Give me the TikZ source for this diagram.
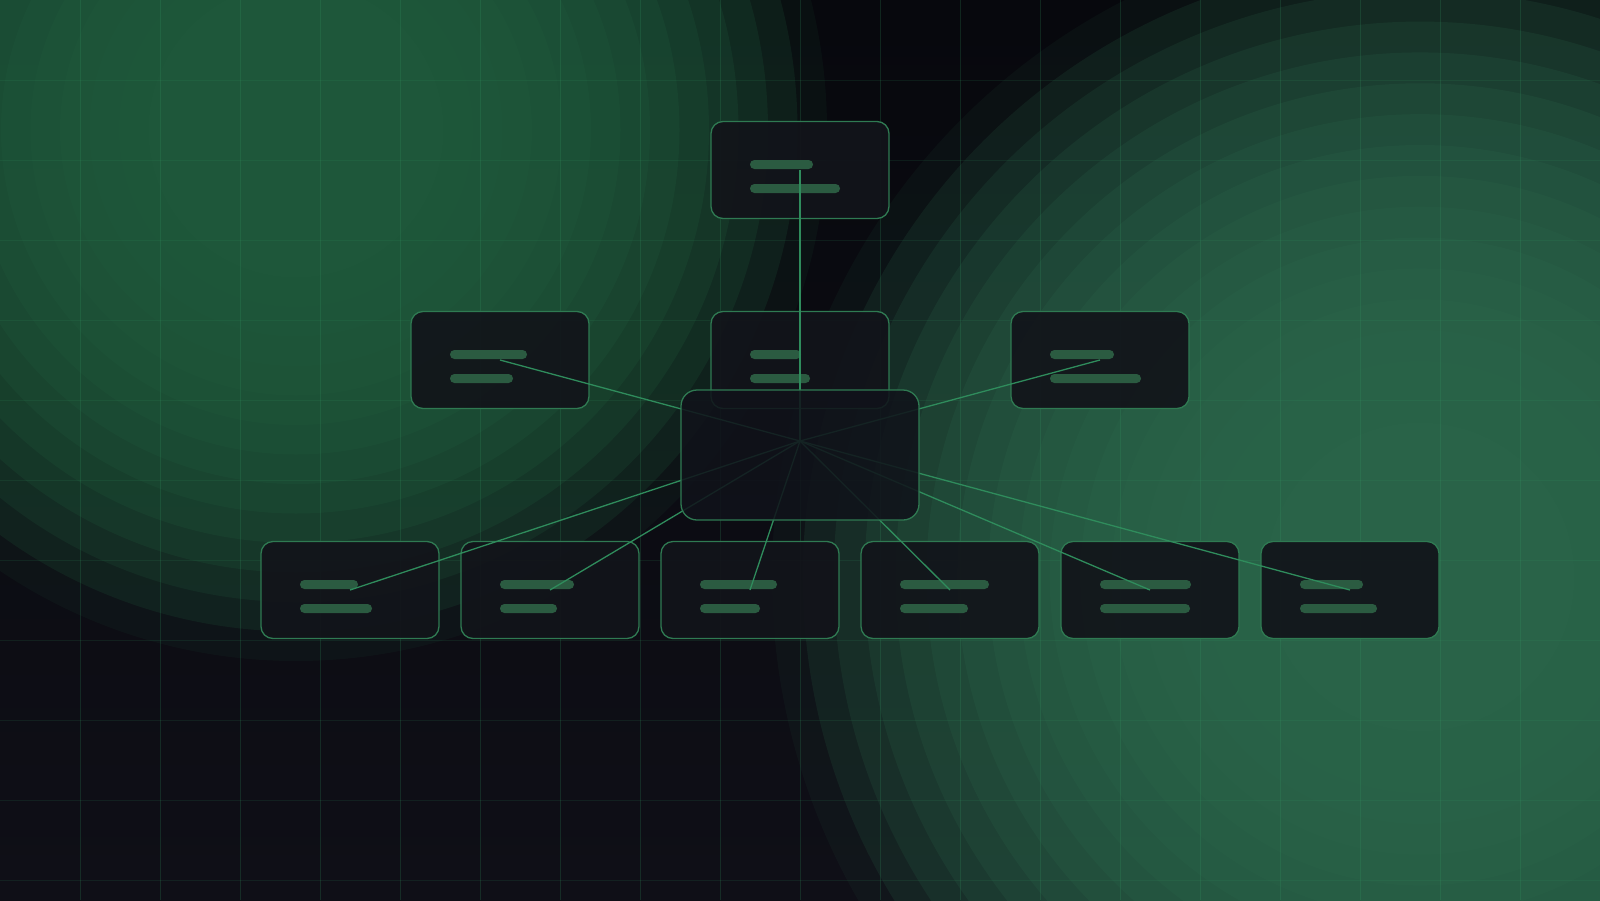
\documentclass[tikz,border=0pt]{standalone}
\usetikzlibrary{calc}
\definecolor{bgtop}{HTML}{07080D}
\definecolor{bgbot}{HTML}{0F0F17}
\definecolor{glowL}{HTML}{1F583B}
\definecolor{glowR}{HTML}{2A6449}
\definecolor{gridc}{HTML}{34A066}
\definecolor{boxfill}{HTML}{12141A}
\definecolor{hubfill}{HTML}{10121A}
\definecolor{boxline}{HTML}{2F7A52}
\definecolor{barc}{HTML}{2B5B41}
\definecolor{linkc}{HTML}{2F8C5C}
\newcommand\cardbars[3]{%
  \fill[bar] ($(#1.center)+(-50,-10)$) rectangle ++(#2,9);
  \fill[bar] ($(#1.center)+(-50,14)$) rectangle ++(#3,9);}
\begin{document}
\begin{tikzpicture}[x=0.5pt,y=-0.5pt,
  card/.style={draw=boxline, line width=0.65pt, fill=boxfill, fill opacity=0.93,
    rounded corners=6pt, minimum width=89pt, minimum height=48.5pt, inner sep=0pt},
  hubbox/.style={draw=boxline, line width=0.65pt, fill=hubfill, fill opacity=0.86,
    rounded corners=8pt, minimum width=119pt, minimum height=65pt, inner sep=0pt},
  bar/.style={fill=barc, rounded corners=2.2pt},
  link/.style={draw=linkc, line width=0.65pt},
  gridv/.style={draw=gridc, opacity=0.2, line width=0.5pt},
  gridh/.style={draw=gridc, opacity=0.13, line width=0.5pt}]
\useasboundingbox (0,0) rectangle (1600,900);
\begin{scope}
\clip (0,0) rectangle (1600,900);
\shade[top color=bgtop, bottom color=bgbot] (0,0) rectangle (1600,900);
% left glow: stacked discs, outermost first
\fill[glowL, fill opacity={1-(17.5/18)^4}] (296,130) circle (265.5pt);
\foreach \i in {17,...,1}{
  \pgfmathsetmacro\op{1-((\i-0.5)/(\i+0.5))^4}
  \pgfmathsetmacro\ro{265.5*\i/18}
  \fill[glowL, fill opacity=\op] (296,130) circle (\ro pt);
}
% right glow
\fill[glowR, fill opacity={1-(20.5/21)^4}] (1420,577) circle (324pt);
\foreach \i in {20,...,1}{
  \pgfmathsetmacro\op{1-((\i-0.5)/(\i+0.5))^4}
  \pgfmathsetmacro\ro{324*\i/21}
  \fill[glowR, fill opacity=\op] (1420,577) circle (\ro pt);
}
% grid
\foreach \k in {1,...,19} \draw[gridv] (\k*80,0) -- (\k*80,900);
\foreach \k in {1,...,11} \draw[gridh] (0,\k*80) -- (1600,\k*80);
\end{scope}

% cards
\node[card] (top) at (800,170) {};
\node[card] (l2) at (500,360) {};
\node[card] (m2) at (800,360) {};
\node[card] (r2) at (1100,360) {};
\node[card] (b1) at (350,590) {};
\node[card] (b2) at (550,590) {};
\node[card] (b3) at (750,590) {};
\node[card] (b4) at (950,590) {};
\node[card] (b5) at (1150,590) {};
\node[card] (b6) at (1350,590) {};

\cardbars{top}{63}{90}
\cardbars{l2}{77}{63}
\cardbars{m2}{51}{60}
\cardbars{r2}{64}{91}
\cardbars{b1}{58}{72}
\cardbars{b2}{74}{57}
\cardbars{b3}{77}{60}
\cardbars{b4}{89}{68}
\cardbars{b5}{91}{90}
\cardbars{b6}{63}{77}

\coordinate (hubc) at (800,441);
\foreach \n in {top,l2,m2,r2,b1,b2,b3,b4,b5,b6}
  \draw[link] (\n.center) -- (hubc);

\node[hubbox] (hub) at (800,455) {};
\end{tikzpicture}
\end{document}
